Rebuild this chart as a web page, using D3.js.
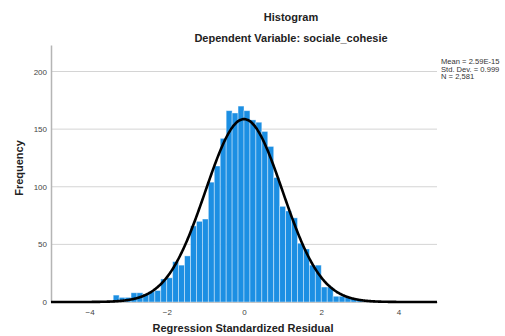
<!DOCTYPE html>
<html>
<head>
<meta charset="utf-8">
<script src="https://cdn.jsdelivr.net/npm/d3@7/dist/d3.min.js"></script>
<style>
  html, body { margin: 0; padding: 0; background: #fff; }
  svg { display: block; font-family: "Liberation Sans", Arial, sans-serif; }
</style>
</head>
<body>
<svg id="chart" width="505" height="336"></svg>
<script>
// Histogram of regression standardized residuals (dependent variable: sociale_cohesie)
const binWidth = 0.154;
const firstBinIndex = -22;          // bins are aligned on 0: edges at k * binWidth
const counts = [6, 4, 4, 8, 8, 7, 9, 10, 20, 21, 35, 32, 40, 66, 70, 72, 104, 118, 142, 166,
                164, 170, 166, 158, 156, 148, 135, 108, 83, 79, 73, 51, 46, 32, 32, 13, 13, 5,
                5, 4, 3, 2, 1];
const xTicks = [-4, -2, 0, 2, 4];
const yTicks = [0, 50, 100, 150, 200];
const stats = { mean: 2.59e-15, sd: 0.999, n: 2581 };
const statLines = ["Mean = 2.59E-15", "Std. Dev. = 0.999", "N = 2,581"];

const svg = d3.select("#chart");
const x = d3.scaleLinear().domain([-5, 5]).range([51, 437]);
const y = d3.scaleLinear().domain([0, 223]).range([302, 45]);

const bins = counts.map((c, i) => ({
  x0: (firstBinIndex + i) * binWidth,
  x1: (firstBinIndex + i + 1) * binWidth,
  count: c
}));

// gridlines
svg.append("g")
  .selectAll("line")
  .data(yTicks.filter(d => d > 0))
  .join("line")
  .attr("x1", x(-5)).attr("x2", x(5))
  .attr("y1", d => y(d)).attr("y2", d => y(d))
  .attr("stroke", "#d4d4d4").attr("stroke-width", 1);

// y axis
const yAxis = svg.append("g")
  .attr("transform", `translate(${x(-5)},0)`)
  .call(d3.axisLeft(y).tickValues(yTicks).tickSize(0).tickPadding(4));
yAxis.select(".domain").attr("stroke", "#b5b5b5").attr("stroke-width", 1.5);
yAxis.selectAll("text").attr("font-size", 8).attr("fill", "#444")
  .attr("font-family", "Liberation Sans, Arial, sans-serif");

// x axis
const xAxis = svg.append("g")
  .attr("transform", `translate(0,${y(0)})`)
  .call(d3.axisBottom(x).tickValues(xTicks).tickSize(0).tickPadding(7)
    .tickFormat(d => d < 0 ? "\u2212" + Math.abs(d) : d));
xAxis.select(".domain").attr("stroke", "#b5b5b5");
xAxis.selectAll("text").attr("font-size", 8).attr("fill", "#444")
  .attr("font-family", "Liberation Sans, Arial, sans-serif");

// bars
svg.append("g")
  .selectAll("rect")
  .data(bins)
  .join("rect")
  .attr("x", d => x(d.x0))
  .attr("width", d => x(d.x1) - x(d.x0))
  .attr("y", d => y(d.count))
  .attr("height", d => y(0) - y(d.count))
  .attr("fill", "#1c8fe3")
  .attr("stroke", "rgba(255,255,255,0.5)")
  .attr("stroke-width", 0.8);

// normal curve scaled to counts
const pdf = v => Math.exp(-0.5 * ((v - stats.mean) / stats.sd) ** 2) / (stats.sd * Math.sqrt(2 * Math.PI));
const curvePts = d3.range(-5, 5.0001, 0.02).map(v => [v, stats.n * binWidth * pdf(v)]);
svg.append("path")
  .datum(curvePts)
  .attr("fill", "none")
  .attr("stroke", "#000")
  .attr("stroke-width", 2.6)
  .attr("stroke-linejoin", "round")
  .attr("d", d3.line().x(d => x(d[0])).y(d => y(d[1])).curve(d3.curveBasis));

// titles
svg.append("text").attr("x", 291).attr("y", 21).attr("text-anchor", "middle")
  .attr("font-size", 11).attr("font-weight", "bold").attr("fill", "#222").text("Histogram");
svg.append("text").attr("x", 291).attr("y", 42).attr("text-anchor", "middle")
  .attr("font-size", 11).attr("font-weight", "bold").attr("fill", "#222")
  .text("Dependent Variable: sociale_cohesie");

// axis titles
svg.append("text").attr("x", 243).attr("y", 332).attr("text-anchor", "middle")
  .attr("font-size", 11).attr("font-weight", "bold").attr("fill", "#222")
  .text("Regression Standardized Residual");
svg.append("text").attr("transform", "translate(23,168) rotate(-90)").attr("text-anchor", "middle")
  .attr("font-size", 11).attr("font-weight", "bold").attr("fill", "#222")
  .text("Frequency");

// summary statistics
svg.append("g").selectAll("text").data(statLines).join("text")
  .attr("x", 441).attr("y", (d, i) => 64 + i * 7.5)
  .attr("font-size", 7.6).attr("fill", "#333")
  .text(d => d);
</script>
</body>
</html>
